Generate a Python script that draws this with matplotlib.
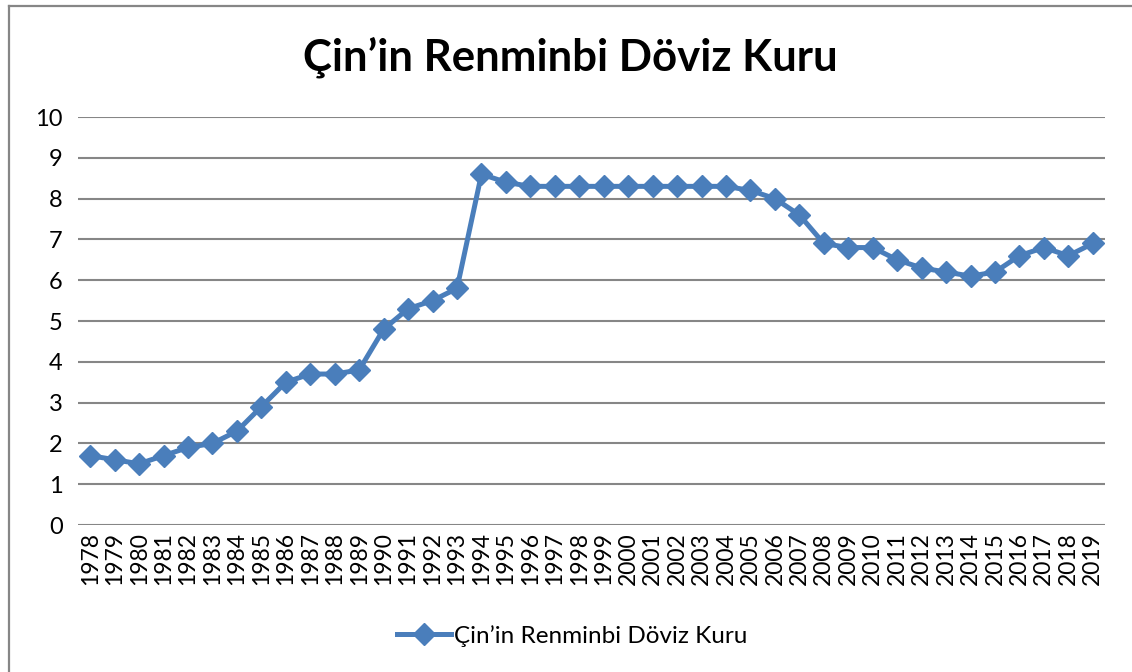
import matplotlib
matplotlib.use("Agg")
import matplotlib.pyplot as plt
from matplotlib.lines import Line2D

years = list(range(1978, 2020))
rates = [1.7, 1.6, 1.5, 1.7, 1.9, 2.0, 2.3, 2.9, 3.5, 3.7, 3.7, 3.8,
         4.8, 5.3, 5.5, 5.8, 8.6, 8.4, 8.3, 8.3, 8.3, 8.3, 8.3, 8.3,
         8.3, 8.3, 8.3, 8.2, 8.0, 7.6, 6.9, 6.8, 6.8, 6.5, 6.3, 6.2,
         6.1, 6.2, 6.6, 6.8, 6.6, 6.9]
title = "Çin’in Renminbi Döviz Kuru"
series_name = "Çin’in Renminbi Döviz Kuru"
yticks = list(range(0, 11))

W, H = 1132, 672
fig = plt.figure(figsize=(W / 100, H / 100), dpi=100)
ax = fig.add_axes([78 / W, 1 - 525 / H, (1105 - 78) / W, (525 - 117) / H])

color = "#4a7ebb"
ax.plot(years, rates, color=color, lw=3.6, marker="D", markersize=11.5,
        label=series_name, solid_joinstyle="round")

ax.set_xlim(1977.5, 2019.5)
ax.set_ylim(0, 10)
ax.set_yticks(yticks)
ax.set_yticklabels([str(v) for v in yticks], fontsize=17, family="Lato")
ax.set_xticks(years)
ax.set_xticklabels([str(y) for y in years], rotation=90, fontsize=16.5,
                   family="Lato")
ax.tick_params(axis="y", length=0, pad=11)
ax.tick_params(axis="x", length=0, pad=5)
for s in ax.spines.values():
    s.set_visible(False)
ax.grid(axis="y", color="#868686", lw=1.5)
ax.set_axisbelow(True)

fig.text(570 / W, 1 - 57 / H, title, ha="center", va="center",
         fontsize=31.5, fontweight="bold", family="Lato")

leg = fig.legend(loc="center", bbox_to_anchor=(572 / W, 1 - 636 / H),
                 frameon=False, prop={"family": "Lato", "size": 17.5},
                 handlelength=2.25, handletextpad=0.12)

# chart-area border (top and left edges visible in the reference)
bx, by = 8.5 / W, 1 - 5.5 / H
fig.add_artist(Line2D([bx, 1.0], [by, by], transform=fig.transFigure,
                      color="#868686", lw=1.6))
fig.add_artist(Line2D([bx, bx], [0.0, by], transform=fig.transFigure,
                      color="#868686", lw=1.6))

fig.savefig("out.png", dpi=100)
